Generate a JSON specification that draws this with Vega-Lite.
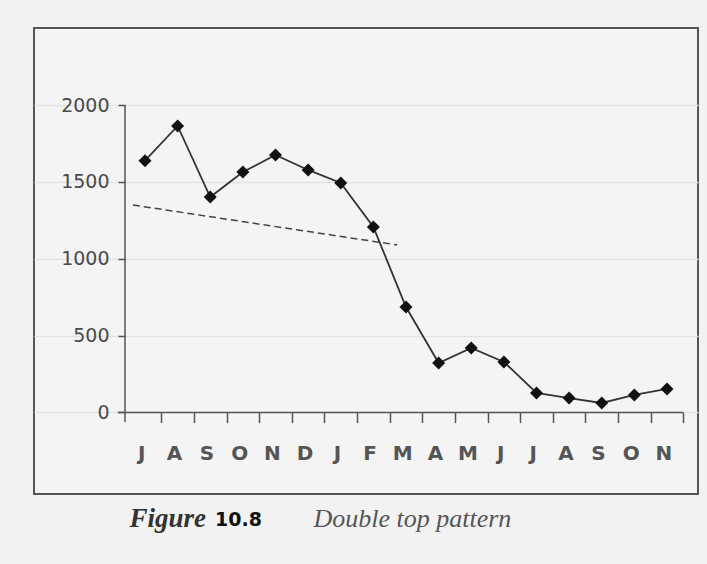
{
  "$schema": "https://vega.github.io/schema/vega-lite/v6.json",
  "width": 664,
  "height": 466,
  "autosize": {"type": "none"},
  "padding": {"left": 34, "top": 28, "right": 9, "bottom": 70},
  "background": "#f2f2f2",
  "config": {"view": {"stroke": "#555555", "strokeWidth": 2, "fill": "#f4f4f4"}},
  "title": {
    "text": "10.8",
    "orient": "top",
    "anchor": "start",
    "frame": "group",
    "dx": 181,
    "dy": 517,
    "offset": 0,
    "baseline": "alphabetic",
    "font": "DejaVu Sans",
    "fontSize": 19,
    "fontWeight": "bold",
    "color": "#111111"
  },
  "datasets": {
    "prices": [
      {"i": 0, "m": "J", "v": 1638},
      {"i": 1, "m": "A", "v": 1864},
      {"i": 2, "m": "S", "v": 1402},
      {"i": 3, "m": "O", "v": 1565},
      {"i": 4, "m": "N", "v": 1675},
      {"i": 5, "m": "D", "v": 1578},
      {"i": 6, "m": "J", "v": 1493},
      {"i": 7, "m": "F", "v": 1207},
      {"i": 8, "m": "M", "v": 686},
      {"i": 9, "m": "A", "v": 322},
      {"i": 10, "m": "M", "v": 420},
      {"i": 11, "m": "J", "v": 329},
      {"i": 12, "m": "J", "v": 127},
      {"i": 13, "m": "A", "v": 94},
      {"i": 14, "m": "S", "v": 62},
      {"i": 15, "m": "O", "v": 114},
      {"i": 16, "m": "N", "v": 153}
    ],
    "trend": [
      {"i": -0.37, "v": 1350},
      {"i": 7.73, "v": 1090}
    ]
  },
  "layer": [
    {
      "data": {"values": [{}]},
      "mark": {"type": "rule", "color": "#555555", "strokeWidth": 1.5},
      "encoding": {
        "x": {"datum": -0.613, "type": "quantitative"},
        "y": {"datum": 2000, "type": "quantitative"},
        "y2": {"datum": -62}
      }
    },
    {
      "data": {"values": [{}]},
      "mark": {"type": "rule", "color": "#555555", "strokeWidth": 1.5},
      "encoding": {
        "x": {"datum": -0.83, "type": "quantitative"},
        "x2": {"datum": 16.5},
        "y": {"datum": 0, "type": "quantitative"}
      }
    },
    {
      "data": {"name": "trend"},
      "mark": {"type": "line", "color": "#444444", "strokeWidth": 1.5, "strokeDash": [7, 4]},
      "encoding": {
        "x": {"field": "i", "type": "quantitative"},
        "y": {"field": "v", "type": "quantitative"}
      }
    },
    {
      "data": {"name": "prices"},
      "mark": {
        "type": "line",
        "color": "#333333",
        "strokeWidth": 1.8,
        "point": {"shape": "diamond", "size": 170, "filled": true, "color": "#111111", "opacity": 1}
      },
      "encoding": {
        "x": {
          "field": "i",
          "type": "quantitative",
          "scale": {"domain": [-3.402, 16.95], "nice": false, "zero": false},
          "axis": {
            "offset": -81.5,
            "domain": false,
            "grid": false,
            "values": [0.5, 1.5, 2.5, 3.5, 4.5, 5.5, 6.5, 7.5, 8.5, 9.5, 10.5, 11.5, 12.5, 13.5, 14.5, 15.5, 16.5],
            "tickSize": 10,
            "tickWidth": 1.5,
            "tickColor": "#555555",
            "labelExpr": "['J','A','S','O','N','D','J','F','M','A','M','J','J','A','S','O','N'][round(datum.value - 0.5)]",
            "labelOffset": -20,
            "labelPadding": 21,
            "labelFont": "DejaVu Sans",
            "labelFontSize": 20,
            "labelFontWeight": "bold",
            "labelColor": "#555555",
            "labelOverlap": false,
            "labelFlush": false,
            "labelBound": false,
            "title": "Double top pattern",
            "titleFont": "Liberation Serif",
            "titleFontStyle": "italic",
            "titleFontWeight": "normal",
            "titleFontSize": 26,
            "titleColor": "#555555",
            "titleX": 279,
            "titleY": 113.5,
            "titleAlign": "left",
            "titleAnchor": "start",
            "titleBaseline": "alphabetic"
          }
        },
        "y": {
          "field": "v",
          "type": "quantitative",
          "scale": {"domain": [-530.3, 2501.6], "nice": false, "zero": false},
          "axis": {
            "offset": -91,
            "domain": false,
            "values": [0, 500, 1000, 1500, 2000],
            "format": "d",
            "tickSize": 7,
            "tickWidth": 1.5,
            "tickColor": "#555555",
            "labelPadding": 9,
            "labelFont": "DejaVu Sans",
            "labelFontSize": 19,
            "labelColor": "#4a4a4a",
            "grid": true,
            "gridColor": "#e2e2e2",
            "gridWidth": 1.5,
            "title": "Figure",
            "titleAngle": 0,
            "titleX": 4,
            "titleY": 498,
            "titleAlign": "left",
            "titleBaseline": "alphabetic",
            "titleFont": "Liberation Serif",
            "titleFontStyle": "italic",
            "titleFontWeight": "bold",
            "titleFontSize": 27,
            "titleColor": "#333333"
          }
        }
      }
    }
  ]
}
